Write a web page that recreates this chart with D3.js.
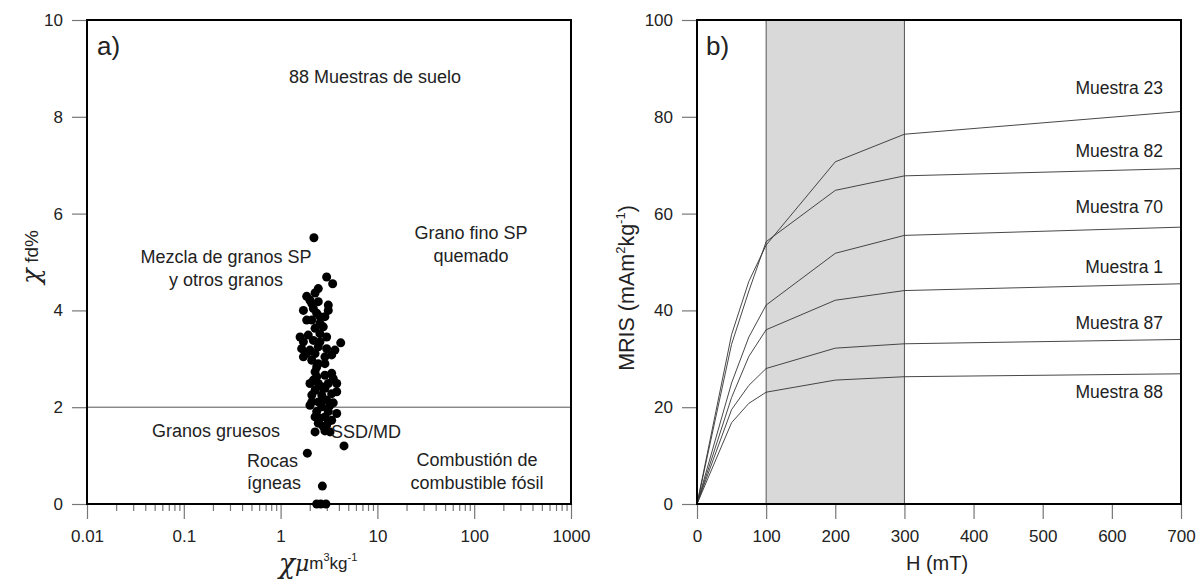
<!DOCTYPE html>
<html><head><meta charset="utf-8">
<script src="https://cdn.jsdelivr.net/npm/d3@7"></script>
<style>
body{margin:0;background:#fff;}
text{font-family:"Liberation Sans",Arial,sans-serif;fill:#222;}
</style></head>
<body><svg id="c" width="1198" height="580"></svg>
<script>
// ---- Data: panel a) ----
const chiValues = [2.21,2.99,3.45,2.45,2.27,1.86,2.01,3.11,2.45,1.72,2.18,2.36,2.87,2.10,2.55,2.27,2.76,1.59,1.93,1.72,2.18,2.55,4.18,1.65,2.01,2.45,2.99,3.64,1.72,2.10,2.87,3.37,2.87,2.27,2.36,2.87,3.50,2.01,2.45,3.11,3.80,2.27,2.87,2.10,2.66,3.37,3.80,2.10,2.45,2.99,3.50,2.01,2.66,2.36,3.11,3.80,2.55,2.87,3.37,2.45,2.99,2.27,2.87,3.24,4.52,1.89,2.70,2.36,2.60,2.94,1.86,3.11,2.45,2.18,2.66,3.24,2.27,2.76,2.55,2.10,3.37,1.86,3.11,2.36,2.76,2.55,2.99,2.27];
const fdValues  = [5.50,4.69,4.55,4.45,4.36,4.29,4.21,4.11,4.18,4.00,4.04,3.94,3.87,3.80,3.73,3.63,3.66,3.45,3.49,3.35,3.38,3.35,3.33,3.21,3.18,3.25,3.21,3.18,3.04,2.97,3.04,3.08,2.90,2.73,2.63,2.66,2.59,2.49,2.49,2.49,2.49,2.35,2.39,2.25,2.25,2.28,2.32,2.11,2.11,2.15,2.09,2.04,2.01,1.91,1.91,1.87,1.77,1.80,1.73,1.67,1.63,1.49,1.51,1.49,1.20,1.05,0.37,0,0,0,3.80,4.00,2.90,2.56,2.42,2.04,1.80,1.60,3.52,4.14,2.70,3.11,1.70,2.83,2.15,3.87,3.45,3.11];
const xTicksA = [0.01,0.1,1,10,100,1000];
const xTickLabelsA = ["0.01","0.1","1","10","100","1000"];
const yTicksA = [0,2,4,6,8,10];
const thresholdA = 2;

// ---- Data: panel b) ----
const fieldH = [0,50,75,100,200,300,700];
const sampleNames = ["Muestra 23","Muestra 82","Muestra 70","Muestra 1","Muestra 87","Muestra 88"];
const m23 = [0,35,46,53.5,70.7,76.4,81.1];
const m82 = [0,33,44,54.2,64.8,67.8,69.3];
const m70 = [0,25,34.5,41.1,51.8,55.5,57.2];
const m1  = [0,22,30.5,36.0,42.1,44.1,45.5];
const m87 = [0,19.5,24.5,28.0,32.2,33.1,34.0];
const m88 = [0,16.8,20.8,23.1,25.6,26.3,26.9];
const labelY = [85.9,73,61.4,49,37.4,23.1];
const band = [100,300];
const xTicksB = [0,100,200,300,400,500,600,700];
const yTicksB = [0,20,40,60,80,100];

const svg = d3.select("#c");
const plotTop=20, plotBottom=504;
const tickCol="#777";

function styleAxis(g){
  g.select(".domain").remove();
  g.selectAll(".tick line").attr("stroke",tickCol).attr("stroke-width",1.2);
  g.selectAll(".tick text").attr("font-size",17).attr("fill","#222").attr("font-family","Liberation Sans, Arial, sans-serif");
}

// ===== Panel a =====
const xA = d3.scaleLog().domain([0.01,1000]).range([87,571]);
const yA = d3.scaleLinear().domain([0,10]).range([plotBottom,plotTop]);
const gA = svg.append("g");

const minors=[];
for(let e=-2;e<3;e++) for(let k=2;k<=9;k++) minors.push(k*Math.pow(10,e));
gA.append("g").attr("transform",`translate(0,${plotBottom})`)
  .call(d3.axisBottom(xA).tickValues(minors).tickSize(7).tickFormat(""))
  .call(styleAxis);
gA.append("g").attr("transform",`translate(0,${plotBottom})`)
  .call(d3.axisBottom(xA).tickValues(xTicksA).tickSize(15).tickPadding(11).tickFormat((d,i)=>xTickLabelsA[i]))
  .call(styleAxis);
gA.append("g").attr("transform",`translate(87,0)`)
  .call(d3.axisLeft(yA).tickValues(yTicksA).tickSize(15).tickPadding(9))
  .call(styleAxis);

gA.append("line").attr("x1",xA(0.01)).attr("x2",xA(1000)).attr("y1",yA(thresholdA)).attr("y2",yA(thresholdA))
  .attr("stroke","#555").attr("stroke-width",1);

gA.selectAll("circle.pt").data(chiValues).join("circle")
  .attr("class","pt").attr("cx",d=>xA(d)).attr("cy",(d,i)=>yA(fdValues[i])).attr("r",4.5).attr("fill","#000");

gA.append("rect").attr("x",87).attr("y",plotTop).attr("width",571-87).attr("height",plotBottom-plotTop)
  .attr("fill","none").attr("stroke","#000").attr("stroke-width",2);

function txt(g,x,y,s,size,anchor){
  return g.append("text").attr("x",x).attr("y",y).attr("font-size",size).attr("text-anchor",anchor||"middle")
    .attr("dominant-baseline","central").text(s);
}
const fs=18;
txt(gA,97,46,"a)",26,"start");
txt(gA,375,77,"88 Muestras de suelo",fs);
txt(gA,471,233,"Grano fino SP",fs);
txt(gA,471,256,"quemado",fs);
txt(gA,226,257,"Mezcla de granos SP",fs);
txt(gA,226,280,"y otros granos",fs);
txt(gA,280,431,"Granos gruesos",fs,"end");
txt(gA,331,432,"SSD/MD",fs,"start");
txt(gA,247,461,"Rocas",fs,"start");
txt(gA,247,483,"ígneas",fs,"start");
txt(gA,477,460,"Combustión de",fs);
txt(gA,477,483,"combustible fósil",fs);

const tA = gA.append("text").attr("x",318).attr("y",563).attr("text-anchor","middle").attr("dominant-baseline","central").attr("font-size",17);
tA.append("tspan").attr("font-style","italic").attr("font-size",27).attr("font-family","DejaVu Serif, serif").text("χ");
tA.append("tspan").attr("font-style","italic").attr("font-size",22).attr("font-family","DejaVu Serif, serif").text("μ");
tA.append("tspan").text("m");
tA.append("tspan").attr("font-size",11).attr("dy",-6).text("3");
tA.append("tspan").attr("dy",6).text("kg");
tA.append("tspan").attr("font-size",11).attr("dy",-6).text("-1");
const yT = gA.append("text").attr("transform","translate(31,257) rotate(-90)").attr("text-anchor","middle").attr("dominant-baseline","central").attr("font-size",19);
yT.append("tspan").attr("font-style","italic").attr("font-size",26).attr("font-family","DejaVu Serif, serif").text("χ");
yT.append("tspan").text(" fd%");

// ===== Panel b =====
const xB = d3.scaleLinear().domain([0,700]).range([697,1181]);
const yB = d3.scaleLinear().domain([0,100]).range([plotBottom,plotTop]);
const gB = svg.append("g");
gB.append("rect").attr("x",xB(band[0])).attr("y",plotTop).attr("width",xB(band[1])-xB(band[0])).attr("height",plotBottom-plotTop)
  .attr("fill","#d9d9d9");
band.forEach(b=>gB.append("line").attr("x1",xB(b)).attr("x2",xB(b)).attr("y1",plotTop).attr("y2",plotBottom).attr("stroke","#555").attr("stroke-width",1));

gB.append("g").attr("transform",`translate(0,${plotBottom})`)
  .call(d3.axisBottom(xB).tickValues(xTicksB).tickSize(15).tickPadding(11))
  .call(styleAxis);
gB.append("g").attr("transform",`translate(697,0)`)
  .call(d3.axisLeft(yB).tickValues(yTicksB).tickSize(15).tickPadding(9))
  .call(styleAxis);

const series=[m23,m82,m70,m1,m87,m88];
const line = d3.line().x((d,i)=>xB(fieldH[i])).y(d=>yB(d));
gB.selectAll("path.curve").data(series).join("path").attr("class","curve")
  .attr("d",line).attr("fill","none").attr("stroke","#333").attr("stroke-width",0.9);

sampleNames.forEach((n,i)=>txt(gB,1163,yB(labelY[i]),n,17.5,"end"));

gB.append("rect").attr("x",697).attr("y",plotTop).attr("width",1181-697).attr("height",plotBottom-plotTop)
  .attr("fill","none").attr("stroke","#000").attr("stroke-width",2);
txt(gB,706,46,"b)",26,"start");

txt(gB,937,563,"H (mT)",20);
const yTB = gB.append("text").attr("transform","translate(627,288) rotate(-90)").attr("text-anchor","middle").attr("dominant-baseline","central").attr("font-size",21.5);
yTB.append("tspan").text("MRIS (mAm");
yTB.append("tspan").attr("font-size",13).attr("dy",-7).text("2");
yTB.append("tspan").attr("dy",7).text("kg");
yTB.append("tspan").attr("font-size",13).attr("dy",-7).text("-1");
yTB.append("tspan").attr("dy",7).text(")");
</script></body></html>
